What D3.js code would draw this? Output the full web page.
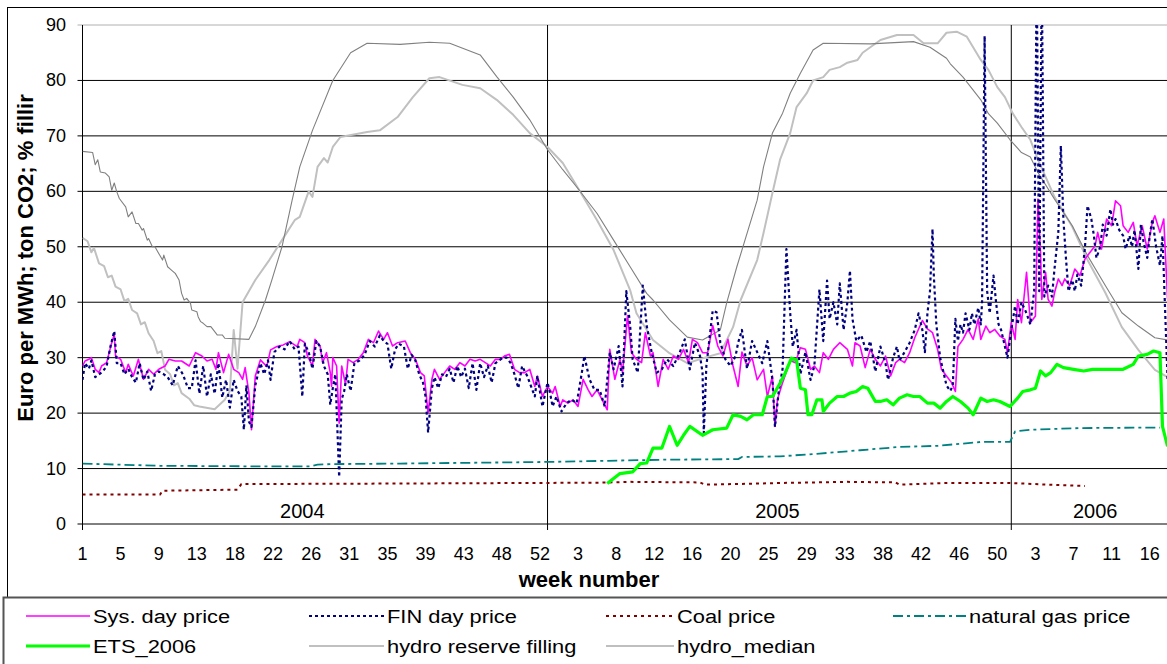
<!DOCTYPE html>
<html><head><meta charset="utf-8">
<script src="https://cdn.jsdelivr.net/npm/d3@7"></script>
<style>
body{margin:0;background:#fff;}
svg text{font-family:"Liberation Sans",Arial,sans-serif;fill:#000;}
</style>
</head><body>
<svg id="chart" width="1167" height="664"></svg>
<script>
// ---------- DATA (day index from 1 Jan 2004, value) ----------
const weekLabels = ["1","5","9","13","18","22","26","31","35","39","43","48","52","3","8","12","16","20","25","29","33","38","42","46","50","3","7","11","16"];
const labelEveryDays = 30;
const yTicks = [0,10,20,30,40,50,60,70,80,90];
const yearNames = ["2004","2005","2006"];
const yearLabelDays = [173,547,797];
const yearBoundaryDays = [366,731];

const sysPrice = [[0,28.5],[2,29.4],[5,29.7],[7,30],[10,27.9],[13,27.3],[15,28.5],[19,29.1],[23,32.7],[25,34.2],[26,30.3],[30,29.7],[34,27.3],[36,28.8],[40,26.7],[44,29.7],[48,26.1],[52,27.9],[56,27],[60,27.9],[65,28.5],[68,29.7],[73,29.4],[78,29.4],[84,28.5],[89,30.9],[94,30.3],[98,29.4],[102,29.7],[105,27.9],[107,30.9],[111,27.3],[115,30.6],[119,27.9],[123,27.3],[126,26.1],[128,28.2],[131,23.6],[133,17],[136,26.7],[140,29.6],[145,28.4],[148,31.4],[153,32],[158,32.3],[163,32.9],[169,32],[171,33.3],[175,32.7],[177,30.3],[181,28.5],[183,33.3],[187,32.1],[189,29.1],[192,30.9],[195,27.3],[196,24.8],[197,30],[200,28.5],[202,18.2],[204,28.5],[207,25.2],[209,29.7],[213,29.1],[217,29.7],[221,30.9],[225,33.3],[229,32.7],[233,34.8],[237,33.3],[240,34.5],[244,32.1],[248,32.7],[254,33],[258,30.9],[262,29.7],[266,27.3],[269,26.7],[272,20],[275,26.1],[277,27.9],[281,26.1],[285,27.3],[289,28.5],[293,27.9],[297,29.1],[301,28.5],[305,29.7],[309,29.4],[313,29.7],[317,29.1],[321,28.5],[325,29.7],[329,29.7],[332,30.3],[336,30.6],[340,27.9],[344,27.3],[348,27.3],[352,27.9],[356,24.8],[358,26.7],[362,23],[366,24.8],[370,23.6],[372,24.8],[376,21.2],[378,22.4],[382,21.8],[386,22.4],[390,21.2],[394,26.1],[398,24.2],[401,23],[405,24.2],[409,22.4],[413,20.6],[415,31.5],[419,26.1],[423,29.7],[425,27.3],[429,37.6],[432,30.9],[436,29.7],[440,29.1],[443,34.5],[447,30.3],[449,30.9],[453,24.8],[457,29.7],[461,27.9],[465,30.3],[469,29.7],[473,31.5],[477,29.1],[480,33.3],[484,32.7],[488,30.9],[492,30.9],[496,35.8],[500,32.1],[504,30.3],[508,33.3],[512,28.5],[516,24.8],[519,31],[523,28.5],[527,30],[531,26],[536,27.9],[539,23],[543,26.7],[545,17.6],[547,22.5],[551,25.5],[557,29.5],[561,29.1],[565,31.8],[569,31.5],[573,27.9],[576,28.5],[580,27.3],[583,30.9],[587,29.7],[591,31.5],[596,32.7],[602,31.5],[606,28.5],[608,32.7],[612,32.1],[616,28.2],[620,31.5],[624,29.7],[628,28.5],[632,30.3],[636,26.7],[640,29.1],[643,29.7],[647,29.1],[651,30.9],[655,33.6],[661,36.7],[665,35.2],[669,34.5],[673,31.5],[676,27.9],[680,26.7],[684,25.5],[687,23.9],[689,32],[693,33.3],[697,35.1],[701,33.3],[705,37],[707,33.3],[711,35.7],[714,34.5],[718,35.1],[722,33.9],[726,33.3],[728,30.9],[731,36.3],[734,33.3],[736,40.5],[739,36.3],[743,45.4],[746,36.3],[750,37.5],[752,58.6],[754,49],[755,40.5],[758,45.4],[760,40.5],[763,39.3],[765,41.7],[768,44.2],[771,43],[773,44.2],[777,43],[781,46],[785,44.8],[789,47.8],[793,49],[797,50.2],[799,52.6],[802,49.6],[806,55],[810,53.8],[813,58.3],[817,57.4],[819,53.8],[823,52.6],[827,54.4],[830,50.2],[834,53.8],[838,49.6],[842,54.4],[844,55.6],[848,52.6],[851,55],[854,40.5]];

const finPrice = [[0,26],[2,29],[5,28],[7,29.5],[10,26.5],[13,27],[16,27.5],[19,28.5],[22,32],[25,34.8],[27,29],[30,29],[33,27],[36,28],[39,26.5],[42,25.5],[45,29],[48,26],[51,27.5],[54,24],[57,27],[60,27.5],[64,27],[67,26.5],[71,25],[75,28.5],[79,27],[83,24.5],[86,24.5],[89,29.5],[92,23.5],[95,28.5],[98,23],[101,27],[104,23.5],[107,29],[110,22.8],[113,26],[116,21],[119,26],[122,24],[125,23],[127,17],[129,25],[131,18.5],[133,17.5],[136,25],[140,29],[143,27],[146,29.5],[148,26],[151,31],[155,32],[159,31.5],[163,33],[167,31.5],[170,32],[173,23],[175,32.5],[178,31],[181,28],[184,33],[187,32],[190,28.5],[193,27],[195,21.5],[197,24.5],[199,27],[202,8.5],[204,22.5],[206,24],[208,27],[211,24],[214,29],[218,29.5],[222,30.5],[226,33],[230,32],[234,34],[237,33],[240,32.5],[243,28],[246,31.5],[249,32.5],[253,32],[256,28],[259,30.5],[262,29.5],[265,27],[268,25.5],[270,23],[272,16.5],[275,24.5],[277,26.5],[280,24.5],[283,27],[286,26.5],[289,28],[292,25.5],[295,28.5],[298,26.5],[301,28],[304,24.5],[307,29],[310,24.2],[313,29],[316,26.5],[319,28.5],[322,25.5],[325,29],[328,29.5],[331,30],[334,30],[337,29],[340,27],[343,24.5],[346,28.5],[350,26.7],[356,23],[358,26.7],[362,21.2],[366,25.5],[368,23.6],[370,21.2],[373,23],[377,20.3],[381,21.8],[385,22.4],[389,21.8],[393,27.3],[395,30.3],[399,26.1],[403,24.2],[407,24.2],[411,21.2],[415,30.9],[418,27.9],[422,32.1],[425,24.8],[428,42],[431,35.8],[433,29.7],[437,27.3],[441,43],[444,35.8],[448,30.9],[452,27.3],[456,27.9],[460,29.7],[465,28.5],[470,30.9],[474,33.3],[478,27.9],[482,32.7],[486,30.3],[488,27.3],[489,16.4],[491,28.5],[496,38.5],[499,38.2],[502,32.7],[506,29.7],[510,28.5],[514,30.3],[516,32.7],[519,35],[523,28],[527,33],[531,31],[535,29],[539,33],[543,26],[545,17.5],[548,24],[551,28],[554,49.6],[557,38],[559,32],[562,35],[565,27],[569,31],[573,26],[576,28.5],[580,42.3],[583,33],[586,43.9],[588,37],[591,40],[594,36],[596,43.4],[599,35],[602,40],[604,45.7],[606,37],[609,33],[613,34],[617,31],[620,33],[624,27.5],[628,32],[632,29],[634,26],[638,30],[641,32],[643,29.5],[647,31],[651,32.7],[655,35],[658,38],[661,35],[663,31],[665,38],[667,42],[669,53.2],[670,45],[672,36],[675,30],[678,27],[680,25],[683,24],[685,25],[687,37],[689,33],[691,36],[693,34.5],[695,38],[698,35],[700,38],[702,36],[705,39],[707,36],[708,40],[710,88],[712,42],[714,38],[717,44.8],[719,40],[721,36],[723,35],[725,33],[728,30],[731,35],[734,39.3],[736,36],[739,40],[743,38],[746,36],[749,42],[751,100],[753,42],[755,100],[757,41],[760,43],[763,41],[765,46],[768,52.6],[770,68.2],[772,55],[774,48],[776,42],[779,44],[781,42],[783,45],[786,43],[789,50],[791,57.4],[794,55],[796,52],[798,48],[801,50],[803,54],[806,52],[809,56.8],[811,54],[813,55],[816,53],[819,52],[821,49.6],[824,52],[826,50],[828,53],[831,46],[833,54],[835,51],[838,48],[840,52],[842,55],[845,50],[848,46.6],[850,52],[854,26]];

const coalPrice = [[0,5.3],[61,5.3],[63,6.0],[122,6.2],[125,7.2],[250,7.3],[407,7.45],[431,7.6],[486,7.5],[490,7.1],[533,7.3],[549,7.4],[602,7.6],[640,7.5],[643,7.1],[680,7.4],[730,7.4],[760,7.1],[789,6.85]];

const gasPrice = [[0,10.9],[14,10.8],[61,10.5],[132,10.4],[179,10.4],[185,10.7],[195,10.8],[250,10.9],[368,11.2],[458,11.6],[516,11.7],[519,12.1],[549,12.2],[580,12.7],[612,13.3],[643,13.9],[673,14.1],[707,14.8],[730,14.8],[734,16.7],[746,17],[785,17.3],[848,17.4]];

const ets2006 = [[413,7.3],[423,9.1],[433,9.4],[439,10.9],[444,11],[449,13.7],[456,13.7],[462,17.6],[468,14.2],[473,16],[478,17.6],[488,16],[496,17],[507,17.3],[512,19.7],[518,19.4],[523,18.8],[528,19.7],[535,19.7],[539,23],[543,23],[549,25.4],[553,27.2],[558,29.9],[562,29.6],[565,24.5],[569,24.2],[571,19.7],[574,19.7],[578,22.4],[582,22.4],[583,20.3],[588,21.8],[594,23],[599,23],[604,23.6],[609,23.9],[614,24.8],[618,24.5],[624,22.1],[628,22.1],[633,22.4],[638,21.5],[643,22.7],[649,23.3],[654,23],[659,23],[665,21.8],[670,21.8],[675,20.9],[680,22.1],[685,23],[691,22.1],[697,20.9],[701,19.7],[707,22.7],[712,22.1],[717,22.4],[722,22.1],[730,21.2],[736,22.7],[740,23.9],[746,24.2],[750,24.5],[754,27.6],[758,26.7],[762,27.3],[767,28.8],[772,28.2],[780,27.9],[788,27.6],[795,27.9],[803,27.9],[811,27.9],[819,27.9],[827,28.8],[831,30.3],[838,30.6],[843,31.2],[848,30.9],[850,17.6],[854,14]];

const hydroFilling = [[0,51.6],[4,51],[7,49],[9,49.8],[13,47],[17,46.5],[20,44.5],[23,44.8],[26,42.8],[30,42.3],[33,40.2],[36,40.6],[39,38.6],[43,38],[46,36],[49,36.4],[52,34.4],[56,33],[59,30.8],[62,31.2],[65,27.8],[69,27],[72,25],[75,25.4],[78,23.6],[84,22.6],[88,21.4],[92,21.2],[104,20.7],[112,22.4],[116,24],[119,35],[122,28],[126,40],[136,44],[147,47.6],[157,51.2],[167,54.8],[171,55.4],[178,60],[181,59],[185,64.4],[190,66],[193,65.2],[197,68],[203,69.8],[224,70.7],[234,71],[248,73.4],[260,77],[273,80.4],[281,80.6],[299,79.2],[313,78.6],[326,76.5],[339,73.8],[352,70.5],[366,68],[378,65.1],[391,60.2],[405,54.8],[418,49.4],[431,42.2],[436,38],[449,33.2],[462,30.8],[476,29],[491,30.1],[502,30.8],[512,35.5],[518,40.4],[531,47.6],[536,52.5],[543,59.7],[549,65.7],[557,70.5],[562,75.2],[570,77.7],[575,80],[583,80.6],[588,81.9],[596,82.4],[602,83.2],[610,83.7],[614,85],[628,87.3],[641,88.2],[654,88.2],[662,86.7],[673,86.7],[680,88.6],[688,88.8],[696,87.9],[707,83.7],[713,81.9],[720,78.8],[726,77],[732,74.1],[739,71.6],[746,69.3],[752,65.7],[765,59],[779,53.6],[791,47.6],[805,41.7],[818,35.5],[831,31.4],[844,27.8],[854,26.5]];

const hydroMedian = [[0,67.2],[8,67],[10,64.8],[12,65.7],[14,63.5],[18,63.3],[21,62.6],[23,60.2],[25,61.5],[27,59.9],[29,58.7],[34,57.2],[36,55.4],[39,56.3],[42,54.2],[44,54.2],[47,53],[48,53.3],[51,51.2],[52,51.5],[55,50],[57,50],[60,48.8],[63,47.6],[64,48.5],[67,46.4],[70,45.8],[73,45.2],[76,44],[78,41.6],[80,40.4],[82,40.7],[85,39.8],[86,38.6],[90,38.3],[91,37.4],[93,36.5],[95,36.2],[98,35.6],[101,35.6],[103,35],[106,34.1],[110,34.1],[112,33.5],[131,33.3],[136,35.6],[144,40.4],[149,44],[157,50],[165,58.4],[171,64.4],[181,71],[197,80],[211,85],[224,86.7],[250,86.5],[273,86.9],[289,86.7],[313,84.6],[326,80.7],[339,77],[352,72.9],[366,67.5],[378,63.9],[391,60.2],[405,56],[418,51.2],[431,46.4],[444,41.6],[449,40.4],[462,36.8],[476,33.7],[488,33.2],[502,35],[507,39.9],[515,46.4],[531,58.4],[536,64.4],[543,70.5],[551,74.1],[557,77.7],[565,81.3],[575,85.5],[583,86.7],[620,86.6],[654,87],[667,86],[680,84],[683,83],[693,80.6],[707,76.5],[713,74],[720,72.3],[730,69.3],[739,67],[746,66.2],[752,63.4],[765,58.6],[779,53.8],[791,48.4],[805,43],[818,38.1],[831,35.7],[844,33.6],[854,33.2]];

const seriesNames = ["Sys. day price","FIN day price","Coal price","natural gas price","ETS_2006","hydro reserve filling","hydro_median"];
const yTitle = "Euro per MWh; ton CO2; % fillir";
const xTitle = "week number";

// ---------- STYLES ----------
const styles = {
  "Sys. day price":       {color:"#ff00ff", width:1.6, dash:null},
  "FIN day price":        {color:"#000080", width:2.2, dash:"3,3"},
  "Coal price":           {color:"#800000", width:2,   dash:"3,4"},
  "natural gas price":    {color:"#008080", width:1.8, dash:"10,4,3,4"},
  "ETS_2006":             {color:"#00ff00", width:3.2, dash:null},
  "hydro reserve filling":{color:"#c0c0c0", width:2,   dash:null},
  "hydro_median":         {color:"#808080", width:1.1, dash:null}
};
const seriesData = {
  "Sys. day price":sysPrice, "FIN day price":finPrice, "Coal price":coalPrice,
  "natural gas price":gasPrice, "ETS_2006":ets2006,
  "hydro reserve filling":hydroFilling, "hydro_median":hydroMedian
};
const drawOrder = ["hydro reserve filling","hydro_median","Sys. day price","FIN day price","Coal price","natural gas price","ETS_2006"];

// ---------- LAYOUT ----------
const svg = d3.select("#chart");
const L = 82.5, R = 1175.2, T = 25, B = 524;
const x = d3.scaleLinear().domain([0,860]).range([L,R]);
const y = d3.scaleLinear().domain([0,90]).range([B,T]);

// outer chart frame
svg.append("rect").attr("x",7.5).attr("y",7.5).attr("width",1200).attr("height",590)
  .attr("fill","#fff").attr("stroke","#000").attr("stroke-width",1);

// gridlines + y ticks
yTicks.forEach(v=>{
  svg.append("line").attr("x1",L-5).attr("x2",1167).attr("y1",y(v)).attr("y2",y(v))
    .attr("stroke", v===90 ? "#b0b0b0" : "#000").attr("stroke-width",1);
  svg.append("text").attr("x",66).attr("y",y(v)+6).attr("text-anchor","end")
    .attr("font-size",18).text(v);
});

// y axis & year separators
svg.append("line").attr("x1",L).attr("x2",L).attr("y1",T).attr("y2",B+6).attr("stroke","#000");
yearBoundaryDays.forEach(d=>{
  svg.append("line").attr("x1",x(d)).attr("x2",x(d)).attr("y1",T).attr("y2",B+6).attr("stroke","#000");
});

// x tick labels
weekLabels.forEach((lab,i)=>{
  svg.append("text").attr("x",x(i*labelEveryDays)).attr("y",560).attr("text-anchor","middle")
    .attr("font-size",18).text(lab);
});
// year labels
yearNames.forEach((n,i)=>{
  svg.append("text").attr("x",x(yearLabelDays[i])).attr("y",518).attr("text-anchor","middle")
    .attr("font-size",20).text(n);
});

// titles
svg.append("text").attr("x",589).attr("y",587).attr("text-anchor","middle")
  .attr("font-size",22).attr("font-weight","bold").text(xTitle);
svg.append("text").attr("transform","translate(33,258) rotate(-90)").attr("text-anchor","middle")
  .attr("font-size",22).attr("font-weight","bold").text(yTitle);

// clip
svg.append("clipPath").attr("id","pc").append("rect")
  .attr("x",L).attr("y",T).attr("width",R-L).attr("height",B-T+2);
const g = svg.append("g").attr("clip-path","url(#pc)");
const line = d3.line().x(d=>x(d[0])).y(d=>y(d[1]));
drawOrder.forEach(name=>{
  const s = styles[name];
  g.append("path").datum(seriesData[name]).attr("d",line).attr("fill","none")
    .attr("stroke",s.color).attr("stroke-width",s.width)
    .attr("stroke-dasharray",s.dash).attr("stroke-linejoin","round");
});

// legend box
svg.append("rect").attr("x",3.5).attr("y",597.5).attr("width",1200).attr("height",100)
  .attr("fill","#fff").attr("stroke","#555").attr("stroke-width",2);
const legPos = [
  {lx:26, tx:93, row:0},{lx:309, tx:387, row:0},{lx:606, tx:677, row:0},{lx:893, tx:969, row:0},
  {lx:26, tx:93, row:1},{lx:309, tx:387, row:1},{lx:606, tx:677, row:1}
];
seriesNames.forEach((name,i)=>{
  const p = legPos[i], s = styles[name];
  const yy = p.row===0 ? 616 : 646;
  svg.append("line").attr("x1",p.lx).attr("x2",p.tx-3).attr("y1",yy).attr("y2",yy)
    .attr("stroke",s.color).attr("stroke-width",s.width).attr("stroke-dasharray",s.dash);
  svg.append("text").attr("transform",`translate(${p.tx},${yy+7}) scale(1.15,1)`)
    .attr("font-size",19).text(name);
});
</script>
</body></html>
